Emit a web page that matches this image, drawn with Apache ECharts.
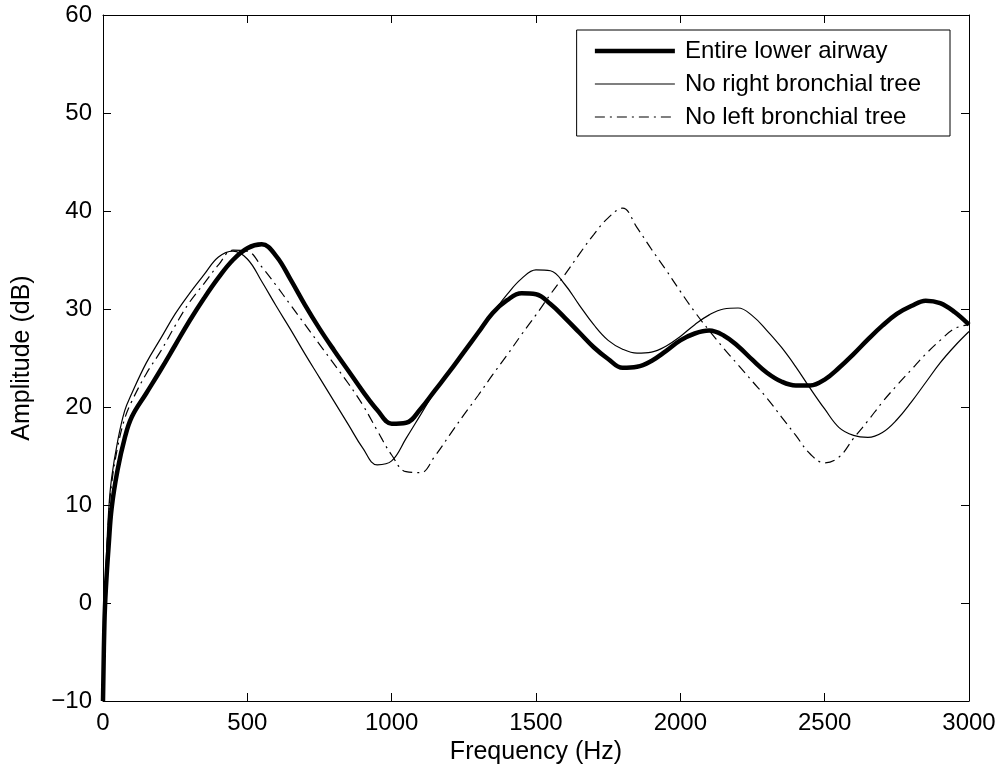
<!DOCTYPE html>
<html>
<head>
<meta charset="utf-8">
<script src="https://cdn.jsdelivr.net/npm/echarts@6/dist/echarts.min.js"></script>
<style>
html,body{margin:0;padding:0;background:#fff;}
#chart{width:1005px;height:773px;}
</style>
</head>
<body>
<div id="chart"></div>
<script>
// Frequency grid (Hz)
const freq = [0,5,10,20,30,50,75,100,150,200,250,300,350,400,450,500,550,600,650,700,750,800,850,900,950,1000,1050,1100,1150,1200,1250,1300,1350,1400,1450,1500,1550,1600,1650,1700,1750,1800,1850,1900,1950,2000,2050,2100,2150,2200,2250,2300,2350,2400,2450,2500,2550,2600,2650,2700,2750,2800,2850,2900,2950,3000];

// Amplitude (dB)
const entireLowerAirway = [-10,-2,1.5,6,9.7,13.5,16.8,19.0,21.4,23.8,26.3,28.8,31.1,33.2,35.0,36.2,36.6,35.4,33.0,30.4,28.0,25.8,23.7,21.6,19.7,18.3,18.4,19.8,21.7,23.6,25.6,27.6,29.6,30.9,31.6,31.5,30.5,29.1,27.6,26.1,24.9,24.0,24.1,24.7,25.7,26.8,27.5,27.8,27.3,26.2,24.8,23.5,22.6,22.2,22.2,22.8,24.0,25.4,26.9,28.3,29.5,30.3,30.85,30.6,29.7,28.4];
const noRightBronchialTree = [-10,-1,3.5,9.6,12.8,16.4,19.6,21.4,24.5,27.0,29.5,31.6,33.5,35.3,35.9,35.1,32.8,30.3,27.9,25.4,23.0,20.6,18.2,15.8,14.1,14.5,16.8,19.2,21.6,23.6,25.6,27.6,29.6,31.5,33.1,34.0,33.9,32.5,30.4,28.4,26.8,25.9,25.5,25.6,26.2,27.2,28.4,29.4,30.0,30.1,29.3,27.8,26.1,24.1,21.9,19.8,17.9,17.1,16.9,17.4,18.7,20.5,22.5,24.5,26.2,27.7];
const noLeftBronchialTree = [-10,-1.5,3,9,12.2,15.8,18.8,20.6,23.4,25.7,28.3,30.7,32.6,34.5,36.0,35.9,34.3,32.4,30.4,28.4,26.4,24.4,22.4,20.2,17.6,15.1,13.4,13.3,15.0,17.1,19.2,21.2,23.3,25.3,27.4,29.4,31.5,33.5,35.6,37.6,39.3,40.3,38.3,36.1,34.0,31.8,29.7,27.8,26.0,24.3,22.6,20.9,19.0,17.1,15.2,14.3,14.9,16.8,18.6,20.5,22.2,23.8,25.4,26.8,28.0,28.4];

const seriesNames = ['Entire lower airway','No right bronchial tree','No left bronchial tree'];
const xTicks = {min:0, max:3000, interval:500};
const yTicks = {min:-10, max:60, interval:10};

const pair = arr => freq.map((f,i)=>[f, arr[i]]);
const FONT = '"Liberation Sans", Arial, Helvetica, sans-serif';
const lineWidths = [4.5, 1.2, 1.2];
const lineTypes = ['solid', 'solid', [10,5,2,5]];

const chart = echarts.init(document.getElementById('chart'), null, {renderer:'canvas'});
const axisCommon = {
  axisLine:{show:true, onZero:false, lineStyle:{color:'#000', width:1}},
  axisTick:{show:true, inside:true, length:8, lineStyle:{color:'#000', width:1}},
  splitLine:{show:false}
};
const hiddenSymbol = {color:'rgba(0,0,0,0)', borderWidth:0, opacity:0};
chart.setOption({
  animation:false,
  backgroundColor:'#fff',
  grid:{left:103, right:36, top:15, bottom:72, containLabel:false},
  legend:{
    show:true,
    right:55, top:30,
    orient:'vertical',
    align:'left',
    data:seriesNames.map((n,i)=>({name:n, itemStyle:hiddenSymbol,
      lineStyle:{width:lineWidths[i], color:'#000', type:lineTypes[i], opacity:1}})),
    backgroundColor:'#fff',
    borderColor:'#000', borderWidth:1, borderRadius:0,
    padding:[8,29,6,16],
    itemWidth:80, itemHeight:14, itemGap:7,
    itemStyle:hiddenSymbol,
    textStyle:{fontFamily:FONT, fontSize:24, color:'#000', lineHeight:26, padding:[0,0,0,5]}
  },
  xAxis:[
    Object.assign({type:'value', position:'bottom', min:xTicks.min, max:xTicks.max, interval:xTicks.interval,
      name:'Frequency (Hz)', nameLocation:'middle', nameGap:39,
      nameTextStyle:{fontFamily:FONT, fontSize:25, color:'#000'},
      axisLabel:{fontFamily:FONT, fontSize:24, color:'#000', margin:10, formatter:v => String(v)}}, axisCommon),
    Object.assign({type:'value', position:'top', min:xTicks.min, max:xTicks.max, interval:xTicks.interval,
      axisLabel:{show:false}}, axisCommon)
  ],
  yAxis:[
    Object.assign({type:'value', position:'left', min:yTicks.min, max:yTicks.max, interval:yTicks.interval,
      name:'Amplitude (dB)', nameLocation:'middle', nameGap:68, nameRotate:90,
      nameTextStyle:{fontFamily:FONT, fontSize:25, color:'#000'},
      axisLabel:{fontFamily:FONT, fontSize:24, color:'#000', margin:11,
        formatter:v => String(v).replace('-', '\u2212')}}, axisCommon),
    Object.assign({type:'value', position:'right', min:yTicks.min, max:yTicks.max, interval:yTicks.interval,
      axisLabel:{show:false}}, axisCommon)
  ],
  series:seriesNames.map((n,i)=>({
    name:n, type:'line',
    data:pair([entireLowerAirway, noRightBronchialTree, noLeftBronchialTree][i]),
    showSymbol:false, symbol:'none', smooth:0.4,
    lineStyle:{color:'#000', width:lineWidths[i], type:lineTypes[i]},
    itemStyle:{color:'#000'}, z:i===0?3:2
  }))
});
</script>
</body>
</html>
